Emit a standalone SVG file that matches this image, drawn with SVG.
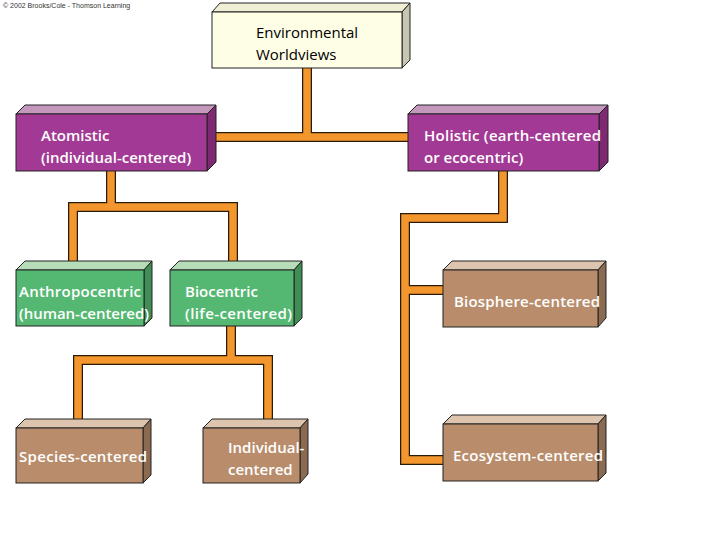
<svg xmlns="http://www.w3.org/2000/svg" width="720" height="540" viewBox="0 0 720 540">
<style>
.c{fill:none;stroke-linejoin:miter;stroke-linecap:square}
.o{stroke:#2a1a0a;stroke-width:10}
.i{stroke:#f4962e;stroke-width:7.5}
.f{stroke:#222;stroke-width:1}
text{font-family:"Open Sans","Liberation Sans",sans-serif;font-size:15px;fill:#fff;font-weight:600}
.k{fill:#000;font-weight:500}
.cp{font-family:"Liberation Sans",sans-serif;font-size:7px;fill:#333;font-weight:400}
</style>
<rect width="720" height="540" fill="#fff"/>
<text class="cp" x="3" y="8">© 2002 Brooks/Cole - Thomson Learning</text>
<g id="connectors">
<g class="c o">
<path d="M307 68V137M216 137H408M111 171V207H73V268M111 207H233V268M231 326V360H78V428M231 360H268V420M503 171V218H405V460H443M405 290H443"/>
</g>
<g class="c i">
<path d="M307 68V137M216 137H408M111 171V207H73V268M111 207H233V268M231 326V360H78V428M231 360H268V420M503 171V218H405V460H443M405 290H443"/>
</g>
</g>
<g id="env"><polygon class="f" points="212,12 220,3 410,3 402,12" fill="#f0efd6"/><polygon class="f" points="402,12 410,3 410,60 402,68" fill="#c8c6b0"/><rect class="f" x="212" y="12" width="190" height="56" fill="#fefee6"/><text class="k" x="256" y="38">Environmental</text><text class="k" x="256" y="60">Worldviews</text></g>
<g id="atomistic"><polygon class="f" points="16,114 25,105 216,105 207,114" fill="#c497bc"/><polygon class="f" points="207,114 216,105 216,162 207,171" fill="#7d2a73"/><rect class="f" x="16" y="114" width="191" height="57" fill="#a23a95"/><text x="41" y="141">Atomistic</text><text x="41" y="163">(individual-centered)</text></g>
<g id="holistic"><polygon class="f" points="408,114 417,105 608,105 599,114" fill="#c497bc"/><polygon class="f" points="599,114 608,105 608,162 599,171" fill="#7d2a73"/><rect class="f" x="408" y="114" width="191" height="57" fill="#a23a95"/><text x="424" y="141" textLength="177">Holistic (earth-centered</text><text x="424" y="163">or ecocentric)</text></g>
<g id="anthro"><polygon class="f" points="16,270 25,261 152,261 144,270" fill="#b6ddb8"/><polygon class="f" points="144,270 152,261 152,318 144,326" fill="#3e8e56"/><rect class="f" x="16" y="270" width="128" height="56" fill="#55b872"/><text x="19" y="297" textLength="122">Anthropocentric</text><text x="19" y="319" textLength="130">(human-centered)</text></g>
<g id="bio"><polygon class="f" points="170,270 179,261 302,261 294,270" fill="#b6ddb8"/><polygon class="f" points="294,270 302,261 302,318 294,326" fill="#3e8e56"/><rect class="f" x="170" y="270" width="124" height="56" fill="#55b872"/><text x="185" y="297">Biocentric</text><text x="185" y="319" textLength="107">(life-centered)</text></g>
<g id="biosphere"><polygon class="f" points="443,270 452,261 606,261 598,270" fill="#dcc4ae"/><polygon class="f" points="598,270 606,261 606,318 598,327" fill="#8a6a50"/><rect class="f" x="443" y="270" width="155" height="57" fill="#b98d6b"/><text x="454" y="307" textLength="146">Biosphere-centered</text></g>
<g id="species"><polygon class="f" points="16,428 25,419 151,419 143,428" fill="#dcc4ae"/><polygon class="f" points="143,428 151,419 151,475 143,483" fill="#8a6a50"/><rect class="f" x="16" y="428" width="127" height="55" fill="#b98d6b"/><text x="19" y="462" textLength="128">Species-centered</text></g>
<g id="individual"><polygon class="f" points="203,428 212,419 308,419 300,428" fill="#dcc4ae"/><polygon class="f" points="300,428 308,419 308,474 300,483" fill="#8a6a50"/><rect class="f" x="203" y="428" width="97" height="55" fill="#b98d6b"/><text x="228" y="453">Individual-</text><text x="228" y="475">centered</text></g>
<g id="ecosystem"><polygon class="f" points="443,424 452,415 606,415 598,424" fill="#dcc4ae"/><polygon class="f" points="598,424 606,415 606,473 598,481" fill="#8a6a50"/><rect class="f" x="443" y="424" width="155" height="57" fill="#b98d6b"/><text x="453" y="461" textLength="150">Ecosystem-centered</text></g>
</svg>
